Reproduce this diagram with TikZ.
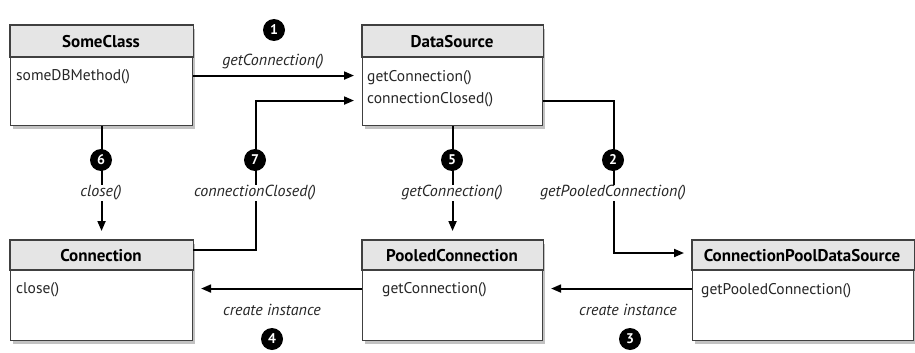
\documentclass[tikz,border=0pt]{standalone}
\usepackage{fontspec}
\setmainfont{PT Sans}
\usetikzlibrary{arrows.meta,calc,shadows}
\begin{document}
\begin{tikzpicture}[x=1pt,y=-1pt,
  umlbox/.style={draw=black!75,line width=1.1pt,fill=white,inner sep=0pt,anchor=north west,
    minimum width=#1,minimum height=100,
    drop shadow={shadow xshift=2.5pt,shadow yshift=-3.5pt,fill=black!40,opacity=.6}},
  headfill/.style={fill=black!10,draw=black!75,line width=1.1pt},
  title/.style={font=\fontsize{17}{19}\selectfont\bfseries,inner sep=0pt},
  method/.style={font=\fontsize{15.5}{17}\selectfont,inner sep=0pt,anchor=west,text=black!85},
  lbl/.style={font=\fontsize{16}{18}\selectfont\itshape,inner sep=0pt,text=black!85},
  num/.style={circle,fill=black,text=white,inner sep=0pt,minimum size=22pt,
    font=\fontsize{14}{14}\selectfont\bfseries},
  conn/.style={line width=1.9pt,-{Triangle[length=10pt,width=8pt]},shorten >=8pt}
]
\useasboundingbox (0,0) rectangle (915,353);
% boxes
\node[umlbox=182] (sc) at (10,25) {};
\node[umlbox=180] (ds) at (362,25) {};
\node[umlbox=182] (cn) at (10,240) {};
\node[umlbox=180] (pc) at (362,240) {};
\node[umlbox=221] (cp) at (692,240) {};
% headers
\draw[headfill] (sc.north west) rectangle ($(sc.north east)+(0,32)$);
\draw[headfill] (ds.north west) rectangle ($(ds.north east)+(0,32)$);
\draw[headfill] (cn.north west) rectangle ($(cn.north east)+(0,30)$);
\draw[headfill] (pc.north west) rectangle ($(pc.north east)+(0,30)$);
\draw[headfill] (cp.north west) rectangle ($(cp.north east)+(0,30)$);
% titles
\node[title] (sct) at (101,42) {SomeClass};
\node[title] (dst) at (452,42) {DataSource};
\node[title] (cnt) at (101,256) {Connection};
\node[title] (pct) at (452,256) {PooledConnection};
\node[title] (cpt) at (802,256) {ConnectionPoolDataSource};
% methods
\node[method] (scm) at (16,77) {someDBMethod()};
\node[method] (dsm1) at (367,78) {getConnection()};
\node[method] (dsm2) at (367,100) {connectionClosed()};
\node[method] (cnm) at (16,290) {close()};
\node[method] (pcm) at (382,290) {getConnection()};
\node[method] (cpm) at (701,291) {getPooledConnection()};
% connectors
\draw[conn] (sc.east) -- (ds.west);
\draw[conn,shorten >=9pt] (sc.south) -- (cn.north);
\draw[conn] ($(cn.north east)+(0,10)$) -- ++(63,0) |- ($(ds.west)+(0,25)$);
\draw[conn,shorten >=9pt] (ds.south) -- (pc.north);
\draw[conn] ($(ds.east)+(0,25)$) -- ++(71,0) |- ($(cp.north west)+(0,13)$);
\draw[conn] ($(pc.west)+(0,-2)$) -- ($(cn.east)+(0,-2)$);
\draw[conn] ($(cp.west)+(0,-2)$) -- ($(pc.east)+(0,-2)$);
% numbers
\node[num] (n1) at (274,30) {1};
\node[num] (n2) at (613,160) {2};
\node[num] (n3) at (630,339) {3};
\node[num] (n4) at (272,339) {4};
\node[num] (n5) at (452,160) {5};
\node[num] (n6) at (101,160) {6};
\node[num] (n7) at (255,160) {7};
% labels
\node[lbl,fill=white,inner sep=1pt] (l1) at (273,62) {getConnection()};
\node[lbl,fill=white,inner sep=1pt] (l6) at (101,193) {close()};
\node[lbl,fill=white,inner sep=1pt] (l7) at (255,193) {connectionClosed()};
\node[lbl,fill=white,inner sep=1pt] (l5) at (452,193) {getConnection()};
\node[lbl,fill=white,inner sep=1pt] (l2) at (613,193) {getPooledConnection()};
\node[lbl] (l4) at (272,310) {create instance};
\node[lbl] (l3) at (628,310) {create instance};
\end{tikzpicture}
\end{document}
